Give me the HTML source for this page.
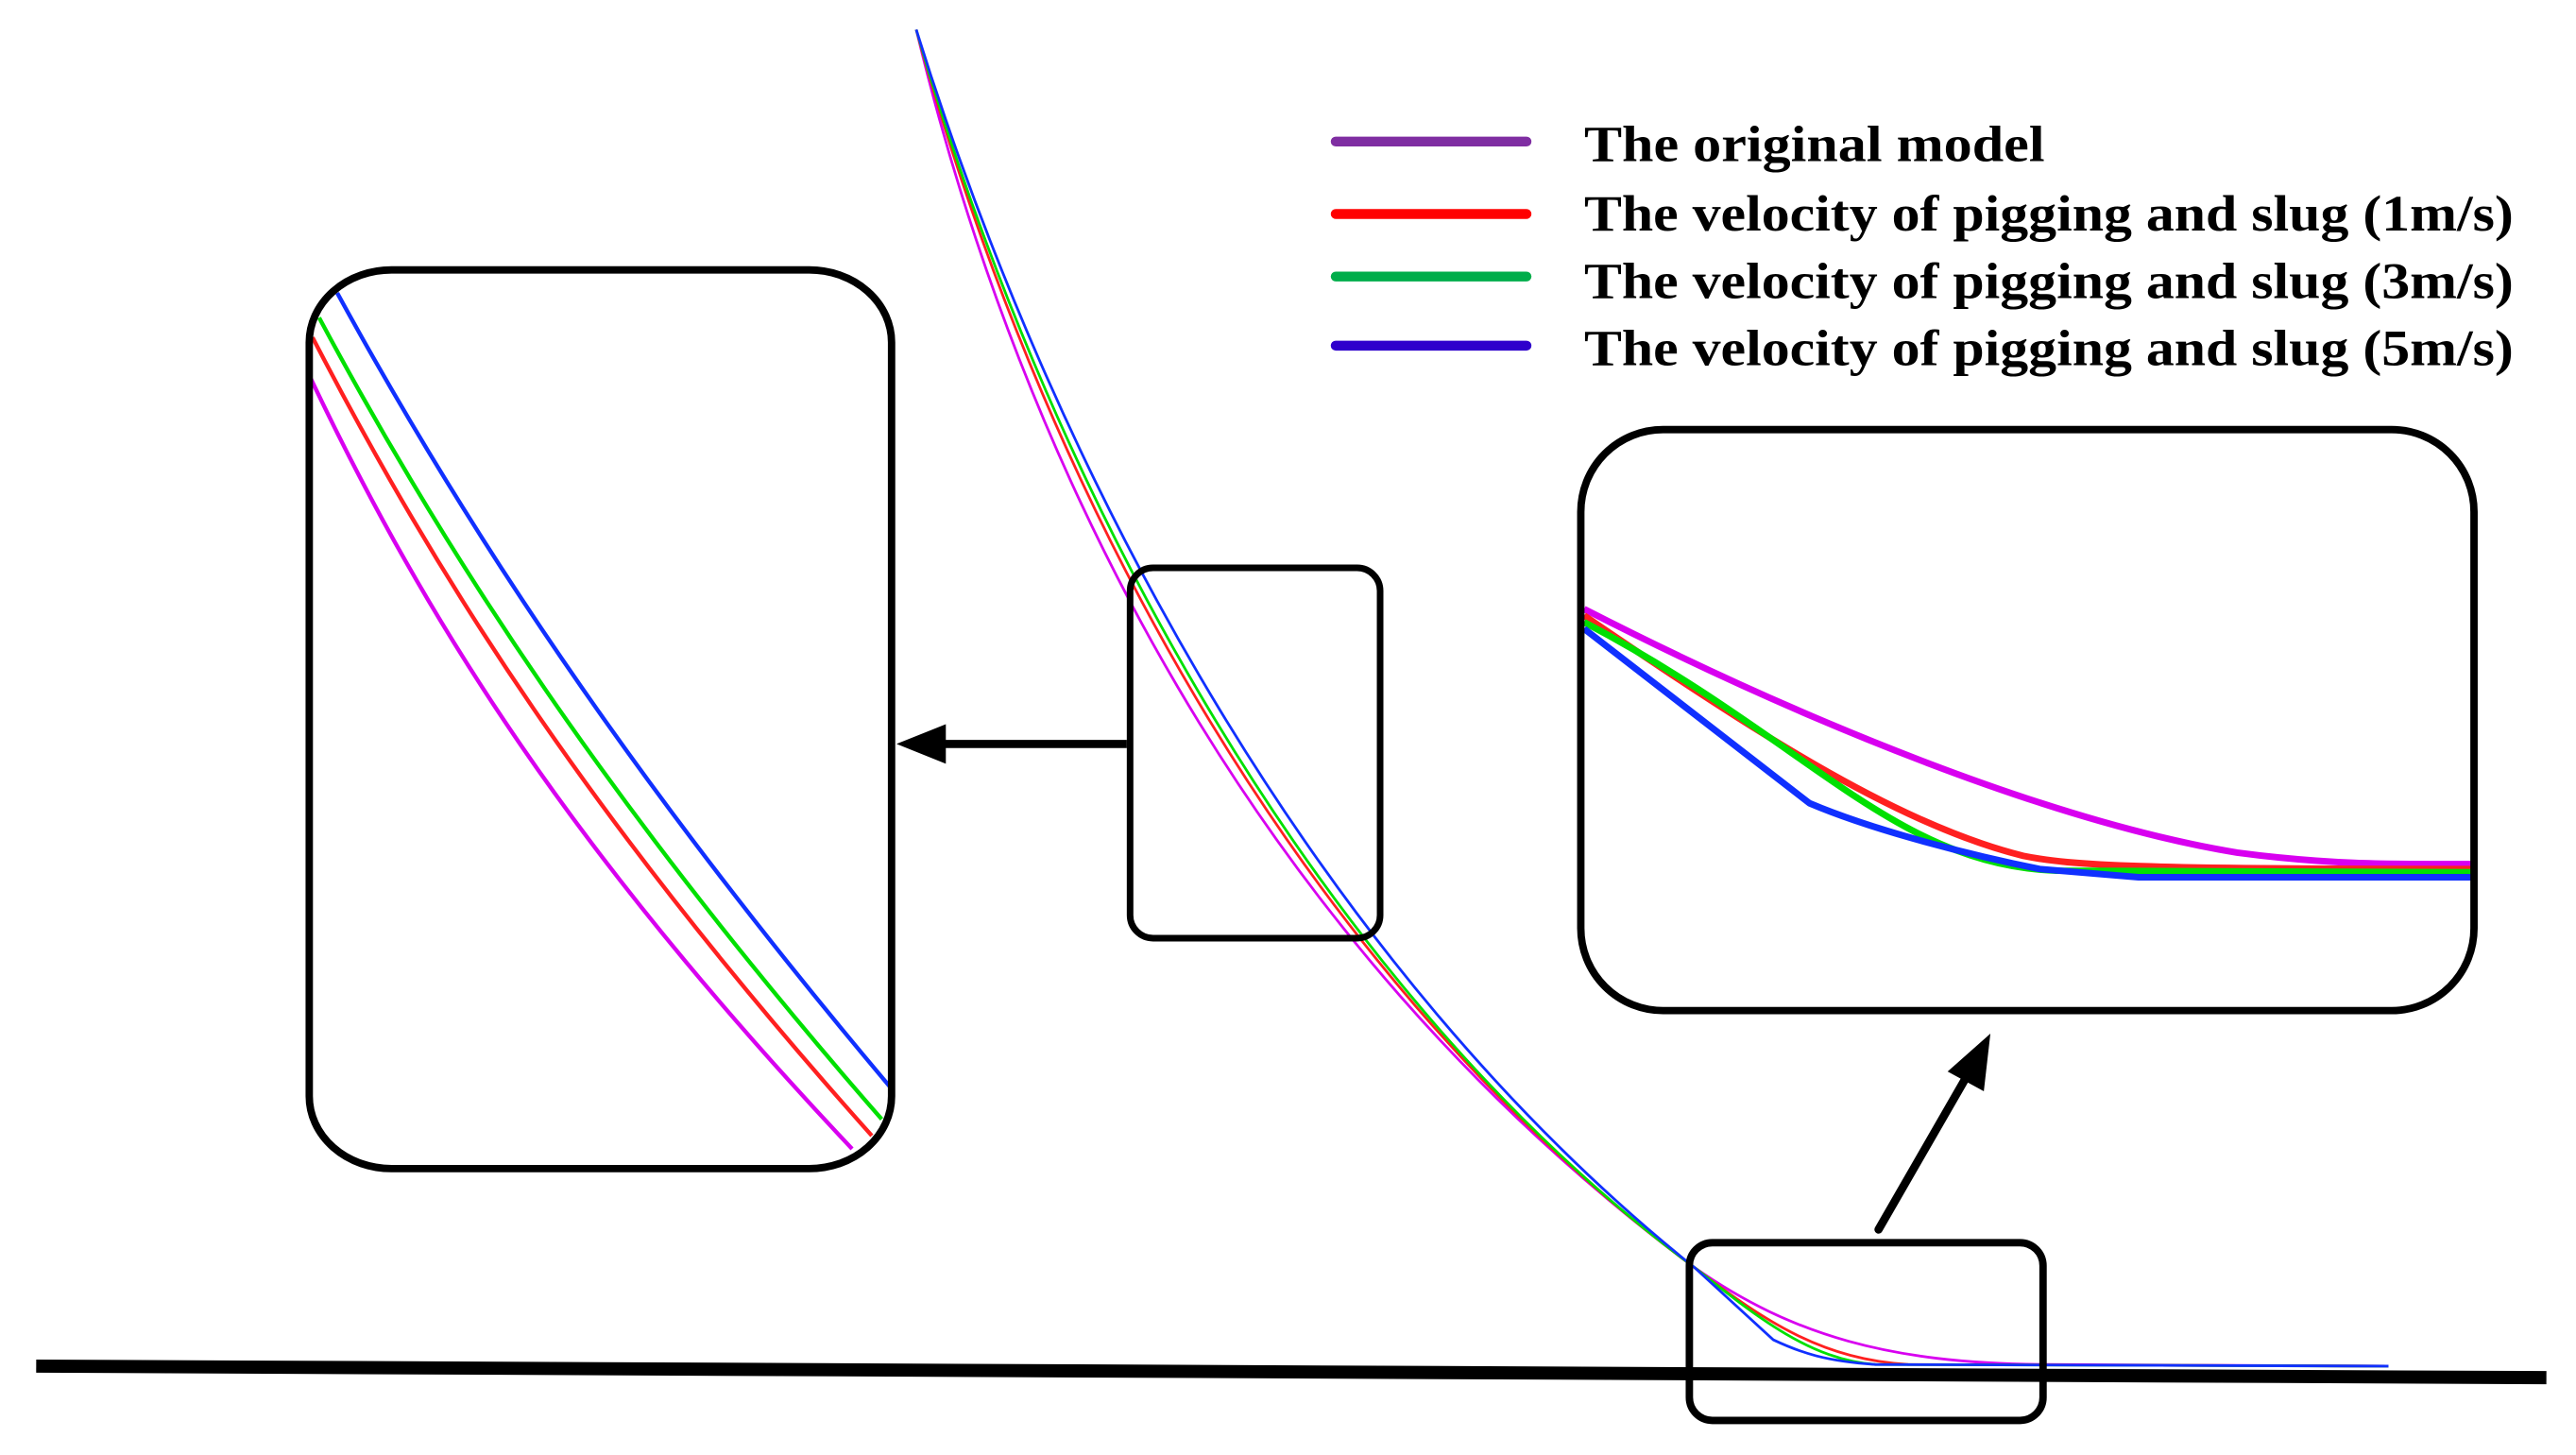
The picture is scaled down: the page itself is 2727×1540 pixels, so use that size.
<!DOCTYPE html>
<html><head><meta charset="utf-8"><style>html,body{margin:0;padding:0;background:#fff}svg{display:block}</style></head>
<body>
<svg width="2727" height="1540" viewBox="0 0 1566 884" preserveAspectRatio="none" xmlns="http://www.w3.org/2000/svg">
<defs>
<clipPath id="cl"><rect x="190" y="166" width="350" height="542" rx="48" ry="42"/></clipPath>
<clipPath id="cr"><rect x="963" y="263" width="539" height="349" rx="48" ry="48"/></clipPath>
</defs>
<rect width="1566" height="884" fill="#fff"/>
<path d="M22,830 L1548,837" stroke="#000" stroke-width="8"/>
<g fill="none" stroke-width="1.6">
<path d="M557,18 C620,280 760,570 1030,770 C1090,812 1150,828 1240,829 L1452,830" stroke="#d800f0"/>
<path d="M557,18 C628,280 780,585 1030,770 C1075,805 1110,826 1160,829 L1452,830" stroke="#ff2020"/>
<path d="M557,18 C632,280 790,592 1030,770 C1068,800 1100,826 1140,829 L1452,830" stroke="#00e000"/>
<path d="M557,18 C645,300 805,590 1030,770 L1078,814 C1095,822 1110,827 1140,829 L1452,830" stroke="#1030ff"/>
</g>
<rect x="687" y="345" width="152" height="225" rx="14" fill="none" stroke="#000" stroke-width="4"/>
<rect x="1027" y="755" width="215" height="108" rx="14" fill="none" stroke="#000" stroke-width="4.5"/>
<path d="M685,452 L570,452" stroke="#000" stroke-width="5"/>
<polygon points="545,452 575,440 575,464" fill="#000"/>
<path d="M1142,747 L1195,655" stroke="#000" stroke-width="5" stroke-linecap="round"/>
<polygon points="1210,628 1206,663 1184,651" fill="#000"/>
<g clip-path="url(#cl)" fill="none" stroke-width="2.5">
<path d="M188,228 C260,380 350,520 518,698" stroke="#d800f0"/>
<path d="M190,205 C265,350 360,500 530,690" stroke="#ff2020"/>
<path d="M194,193 C270,335 370,490 536,680" stroke="#00e000"/>
<path d="M205,178 C280,315 380,470 545,665" stroke="#1030ff"/>
</g>
<rect x="188" y="164" width="354" height="546" rx="50" ry="44" fill="none" stroke="#000" stroke-width="4.5"/>
<g clip-path="url(#cr)" fill="none" stroke-width="4">
<path d="M963,370 C1100,440 1250,500 1360,518 C1420,526 1460,525 1505,525" stroke="#d800f0"/>
<path d="M963,374 C1060,440 1150,500 1230,520 C1260,526 1300,528 1505,528" stroke="#ff2020"/>
<path d="M963,378 C1100,450 1150,525 1250,529 L1505,530" stroke="#00e000"/>
<path d="M963,382 L1100,488 C1140,505 1200,520 1240,528 L1300,533 L1505,533" stroke="#1030ff"/>
</g>
<rect x="961" y="261" width="543" height="353" rx="50" ry="50" fill="none" stroke="#000" stroke-width="4.5"/>
<g stroke-width="6" stroke-linecap="round">
<path d="M812,86 L928,86" stroke="#7f2ea2"/>
<path d="M812,130 L928,130" stroke="#ff0000"/>
<path d="M812,168 L928,168" stroke="#00ad4a"/>
<path d="M812,210 L928,210" stroke="#2f00cc"/>
</g>
<g font-family="Liberation Serif, serif" font-weight="bold" font-size="31" fill="#000">
<text x="963" y="98" textLength="280" lengthAdjust="spacingAndGlyphs">The original model</text>
<text x="963" y="140" textLength="565" lengthAdjust="spacingAndGlyphs">The velocity of pigging and slug (1m/s)</text>
<text x="963" y="181" textLength="565" lengthAdjust="spacingAndGlyphs">The velocity of pigging and slug (3m/s)</text>
<text x="963" y="222" textLength="565" lengthAdjust="spacingAndGlyphs">The velocity of pigging and slug (5m/s)</text>
</g>
</svg>
</body></html>
